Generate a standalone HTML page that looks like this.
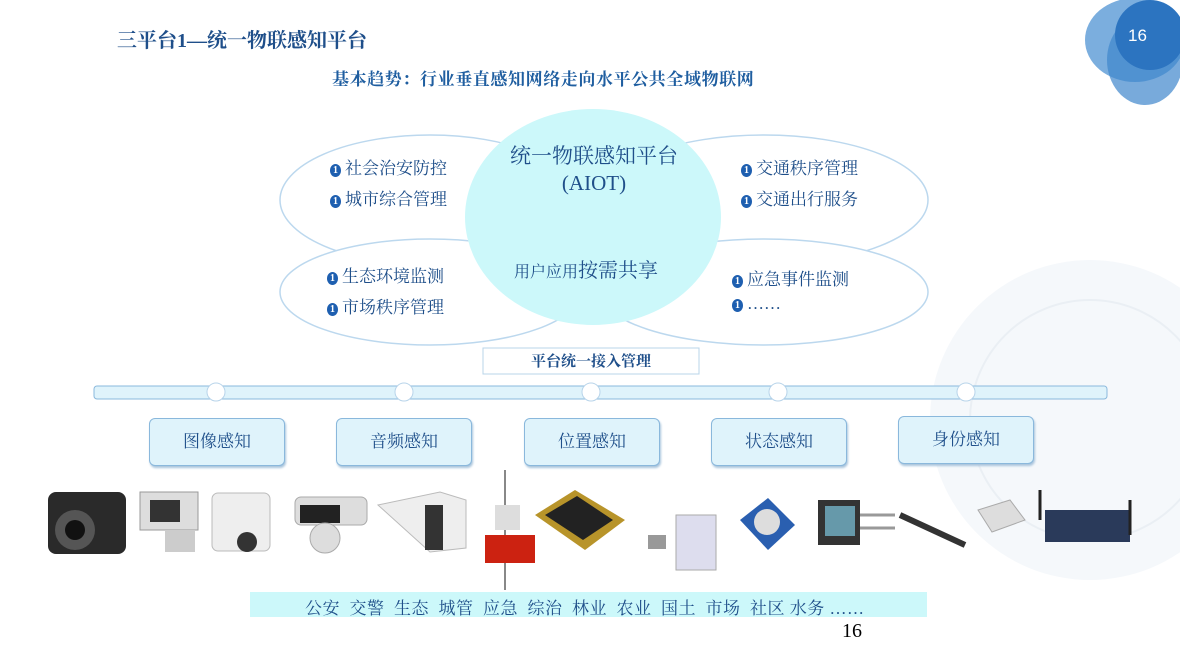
<!DOCTYPE html>
<html><head><meta charset="utf-8"><style>
body{margin:0;width:1180px;height:665px;overflow:hidden;background:#fff;position:relative;font-family:"Liberation Serif","Noto Serif CJK SC","Noto Sans CJK SC",serif}
.a{position:absolute;white-space:nowrap}
.box{position:absolute;background:#dff3fb;border:1.5px solid #8ab8dc;border-radius:6px;box-shadow:1px 2px 2px #a8c4dc;color:#1f4f8a;font-size:17px;text-align:center;line-height:46px;width:134px;height:46px}
.it{font-size:17px;color:#1f4f8a}
.it b{display:inline-block;width:11px;height:13px;border-radius:50%;background:#1e5fb0;color:#fff;font-size:10px;line-height:13px;text-align:center;margin-right:4px;vertical-align:1px}
</style></head><body>
<svg class="a" style="left:0;top:0" width="1180" height="665">
<circle cx="1090" cy="420" r="160" fill="#f5f8fb"/>
<circle cx="1090" cy="420" r="120" fill="none" stroke="#eaeff4" stroke-width="2"/>
<ellipse cx="1135" cy="40" rx="50" ry="42" fill="#5a9ad6" opacity="0.8"/>
<ellipse cx="1145" cy="60" rx="38" ry="45" fill="#3f86cc" opacity="0.7"/>
<ellipse cx="1150" cy="35" rx="35" ry="35" fill="#2c74c0"/>
<ellipse cx="430" cy="200" rx="150" ry="65" fill="#fff" stroke="#bcd8ee" stroke-width="1.5"/>
<ellipse cx="764" cy="200" rx="164" ry="65" fill="#fff" stroke="#bcd8ee" stroke-width="1.5"/>
<ellipse cx="430" cy="292" rx="150" ry="53" fill="#fff" stroke="#bcd8ee" stroke-width="1.5"/>
<ellipse cx="764" cy="292" rx="164" ry="53" fill="#fff" stroke="#bcd8ee" stroke-width="1.5"/>
<ellipse cx="593" cy="217" rx="128" ry="108" fill="#ccf8fa"/>
<rect x="483" y="348" width="216" height="26" fill="#fff" stroke="#b8d4ea"/>
<rect x="94" y="386" width="1013" height="13" rx="3" fill="#dff3fb" stroke="#8ab8dc"/>
<g fill="#fff" stroke="#b8d4ea"><circle cx="216" cy="392" r="9"/><circle cx="404" cy="392" r="9"/><circle cx="591" cy="392" r="9"/><circle cx="778" cy="392" r="9"/><circle cx="966" cy="392" r="9"/></g>
<g>
<rect x="48" y="492" width="78" height="62" rx="8" fill="#2a2a2a"/><circle cx="75" cy="530" r="20" fill="#555"/><circle cx="75" cy="530" r="10" fill="#111"/>
<rect x="140" y="492" width="58" height="38" fill="#ddd" stroke="#999"/><rect x="150" y="500" width="30" height="22" fill="#333"/><rect x="165" y="530" width="30" height="22" fill="#ccc"/>
<rect x="212" y="493" width="58" height="58" rx="6" fill="#eee" stroke="#bbb"/><circle cx="247" cy="542" r="10" fill="#333"/>
<rect x="295" y="497" width="72" height="28" rx="6" fill="#ddd" stroke="#aaa"/><rect x="300" y="505" width="40" height="18" fill="#222"/><circle cx="325" cy="538" r="15" fill="#ddd" stroke="#aaa"/>
<path d="M378 505 L440 492 L466 500 L466 548 L430 552 Z" fill="#eee" stroke="#bbb"/><rect x="425" y="505" width="18" height="45" fill="#333"/>
<line x1="505" y1="470" x2="505" y2="590" stroke="#888" stroke-width="2"/><rect x="485" y="535" width="50" height="28" fill="#c21"/><rect x="495" y="505" width="25" height="25" fill="#ddd"/>
<path d="M535 515 L575 490 L625 520 L585 550 Z" fill="#b8942a"/><path d="M545 515 L577 496 L613 520 L583 540 Z" fill="#222"/>
<rect x="676" y="515" width="40" height="55" fill="#dde" stroke="#aaa"/><rect x="648" y="535" width="18" height="14" fill="#999"/>
<path d="M740 520 L768 498 L795 525 L768 550 Z" fill="#2a5fb0"/><circle cx="767" cy="522" r="13" fill="#ddd"/>
<rect x="818" y="500" width="42" height="45" fill="#333"/><rect x="825" y="506" width="30" height="30" fill="#69a"/><line x1="860" y1="515" x2="895" y2="515" stroke="#999" stroke-width="3"/><line x1="860" y1="528" x2="895" y2="528" stroke="#999" stroke-width="3"/>
<line x1="900" y1="515" x2="965" y2="545" stroke="#333" stroke-width="6"/>
<path d="M978 510 L1010 500 L1025 520 L992 532 Z" fill="#ddd" stroke="#aaa"/>
<rect x="1045" y="510" width="85" height="32" fill="#2a3a5a"/><line x1="1040" y1="490" x2="1040" y2="520" stroke="#222" stroke-width="3"/><line x1="1130" y1="500" x2="1130" y2="535" stroke="#222" stroke-width="3"/>
</g>
<rect x="250" y="592" width="677" height="25" fill="#ccf8fa"/>
</svg>
<div class="a" style="left:117px;top:24px;font-size:20px;color:#1f4f8a;font-weight:bold">三平台1—统一物联感知平台</div>
<div class="a" style="left:1128px;top:26px;font-size:17px;color:#fff;font-family:'Liberation Sans',sans-serif">16</div>
<div class="a" style="left:332px;top:65px;font-size:17px;font-weight:bold;color:#1f5ea0;letter-spacing:0.6px">基本趋势：行业垂直感知网络走向水平公共全域物联网</div>
<div class="a" style="left:494px;top:143px;font-size:21px;color:#1f4f8a;width:200px;text-align:center;line-height:27px">统一物联感知平台<br>(AIOT)</div>
<div class="a" style="left:514px;top:254px;font-size:16px;color:#1f4f8a">用户应用<span style="font-size:20px">按需共享</span></div>
<div class="a it" style="left:330px;top:154px"><b>1</b>社会治安防控</div>
<div class="a it" style="left:330px;top:185px"><b>1</b>城市综合管理</div>
<div class="a it" style="left:741px;top:154px"><b>1</b>交通秩序管理</div>
<div class="a it" style="left:741px;top:185px"><b>1</b>交通出行服务</div>
<div class="a it" style="left:327px;top:262px"><b>1</b>生态环境监测</div>
<div class="a it" style="left:327px;top:293px"><b>1</b>市场秩序管理</div>
<div class="a it" style="left:732px;top:265px"><b>1</b>应急事件监测</div>
<div class="a it" style="left:732px;top:294px"><b>1</b>……</div>
<div class="a" style="left:483px;top:350px;width:216px;text-align:center;font-size:15px;font-weight:bold;color:#1f4f8a">平台统一接入管理</div>
<div class="box" style="left:149px;top:418px">图像感知</div>
<div class="box" style="left:336px;top:418px">音频感知</div>
<div class="box" style="left:524px;top:418px">位置感知</div>
<div class="box" style="left:711px;top:418px">状态感知</div>
<div class="box" style="left:898px;top:416px">身份感知</div>
<div class="a" style="left:305px;top:594px;font-size:17px;color:#1f4f8a;letter-spacing:0.5px">公安&nbsp; 交警&nbsp; 生态&nbsp; 城管&nbsp; 应急&nbsp; 综治&nbsp; 林业&nbsp; 农业&nbsp; 国土&nbsp; 市场&nbsp; 社区 水务 ……</div>
<div class="a" style="left:842px;top:620px;font-size:20px;color:#000">16</div>
</body></html>
